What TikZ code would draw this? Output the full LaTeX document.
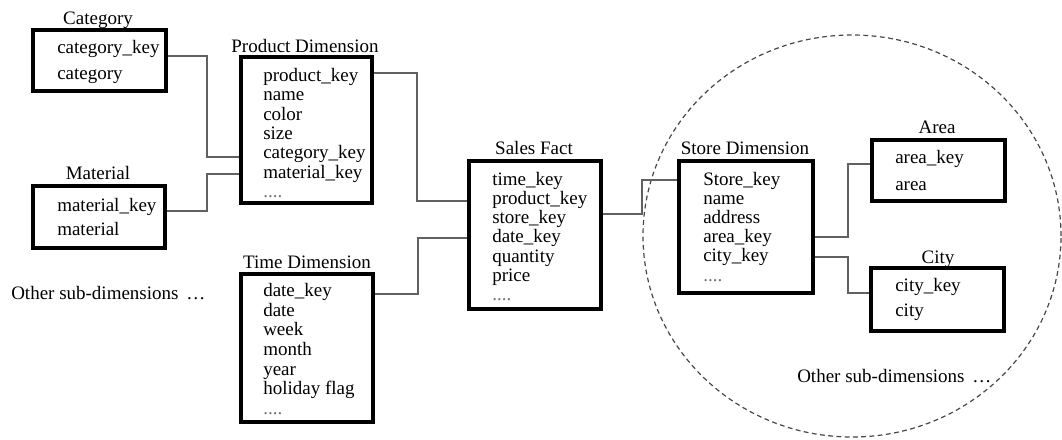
\documentclass[tikz,border=0pt]{standalone}
\usepackage{fontspec}
\setmainfont{Liberation Serif}
\usetikzlibrary{calc,shapes.geometric}

% table frame given by its corners (x1,y1) and (x2,y2)
\newcommand\tablebox[5]{%
  \node[box, minimum width={(#4-#2)*0.75pt}, minimum height={(#5-#3)*0.75pt}]
    (#1) at ({(#2+#4)/2},{(#3+#5)/2}) {};}
% trailing "more fields" mark of a table, set faint
\newcommand\morefields{\textcolor{black!55}{....}}

\begin{document}
\begin{tikzpicture}[x=0.75pt,y=-0.75pt,
  txt/.style={font=\fontsize{14.25}{15}\selectfont, inner sep=0pt},
  title/.style={txt, anchor=base},
  row/.style={txt, anchor=base west},
  box/.style={draw=black, line width=3pt, inner sep=0pt},
  link/.style={draw=black!62, line width=1.1pt},
  group/.style={ellipse, draw=black!72, line width=0.9pt,
                dash pattern=on 3.6pt off 2.6pt, inner sep=0pt}]

\useasboundingbox (0,0) rectangle (1062,439);

% dashed grouping around the store dimension and its sub-dimensions
\node[group, minimum width=418*0.75pt, minimum height=402*0.75pt]
  (storegroup) at (852,236) {};

% ---- tables ----
\tablebox{cat}{33}{30}{166}{91}
\node[title] (cat-t) at (98,24.5) {Category};
\foreach \t [count=\i from 0] in {category\_key,category}
  \node[row] (cat-\i) at (57,{53+26.5*\i}) {\t};

\tablebox{prod}{241}{57}{372}{203}
\node[title] (prod-t) at (305,52) {Product Dimension};
\foreach \t [count=\i from 0] in {product\_key,name,color,size,category\_key,material\_key,\morefields}
  \node[row] (prod-\i) at (263,{81.5+19.3*\i}) {\t};

\tablebox{mat}{33}{186}{165}{248}
\node[title] (mat-t) at (98,179) {Material};
\foreach \t [count=\i from 0] in {material\_key,material}
  \node[row] (mat-\i) at (57,{211.7+23.5*\i}) {\t};

\tablebox{time}{241}{274}{373}{422}
\node[title] (time-t) at (307,268) {Time Dimension};
\foreach \t [count=\i from 0] in {date\_key,date,week,month,year,holiday flag,\morefields}
  \node[row] (time-\i) at (263,{296.7+19.6*\i}) {\t};

\tablebox{sales}{469}{161}{601}{309}
\node[title] (sales-t) at (534,154) {Sales Fact};
\foreach \t [count=\i from 0] in {time\_key,product\_key,store\_key,date\_key,quantity,price,\morefields}
  \node[row] (sales-\i) at (492,{185+19.3*\i}) {\t};

\tablebox{store}{679}{161}{813}{293}
\node[title] (store-t) at (745,154) {Store Dimension};
\foreach \t [count=\i from 0] in {Store\_key,name,address,area\_key,city\_key,\morefields}
  \node[row] (store-\i) at (703,{185+19.2*\i}) {\t};

\tablebox{area}{872}{140}{1005}{201}
\node[title] (area-t) at (937,133) {Area};
\foreach \t [count=\i from 0] in {area\_key,area}
  \node[row] (area-\i) at (895,{163.3+26.7*\i}) {\t};

\tablebox{city}{871}{268}{1004}{331}
\node[title] (city-t) at (938,263) {City};
\foreach \t [count=\i from 0] in {city\_key,city}
  \node[row] (city-\i) at (895,{291+25.7*\i}) {\t};

% ---- free labels ----
\node[row] (others-left) at (11,299) {Other sub-dimensions \,…};
\node[row] (others-right) at (797,382) {Other sub-dimensions \,…};

% ---- key connectors ----
\draw[link] ($(cat.east|-cat-0.base)+(0,3)$) -- ++(39,0)
  |- ($(prod.west|-prod-4.base)+(0,-1.7)$);
\draw[link] ($(mat.east|-mat-0.base)+(0,-0.7)$) -- ++(40,0)
  |- ($(prod.west|-prod-5.base)+(0,-4)$);
\draw[link] ($(prod.east|-prod-0.base)+(0,-8.5)$) -- ++(43,0)
  |- ($(sales.west|-sales-1.base)+(0,-3.3)$);
\draw[link] ($(time.east|-time-0.base)+(0,-2.7)$) -- ++(43,0)
  |- ($(sales.west|-sales-3.base)+(0,-5)$);
\draw[link] ($(sales.east|-sales-2.base)+(0,-9.6)$) -- ++(39,0)
  |- ($(store.west|-store-0.base)+(0,-5)$);
\draw[link] ($(store.east|-store-3.base)+(0,-5.6)$) -- ++(33,0)
  |- ($(area.west|-area-0.base)+(0,0.7)$);
\draw[link] ($(store.east|-store-4.base)+(0,-4.7)$) -- ++(33,0)
  |- ($(city.west|-city-0.base)+(0,2)$);

\end{tikzpicture}
\end{document}
